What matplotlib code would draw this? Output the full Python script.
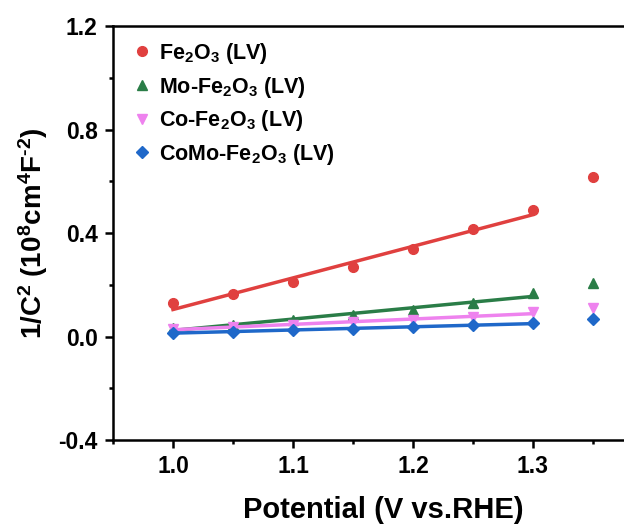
import matplotlib.pyplot as plt
import numpy as np
from matplotlib.ticker import MultipleLocator

plt.rcParams["font.family"] = ["Liberation Sans", "DejaVu Sans"]
plt.rcParams["font.weight"] = "bold"
plt.rcParams["axes.unicode_minus"] = False
plt.rcParams["mathtext.fontset"] = "custom"
plt.rcParams["mathtext.rm"] = "Liberation Sans:bold"
plt.rcParams["mathtext.bf"] = "Liberation Sans:bold"
plt.rcParams["mathtext.default"] = "bf"

potential = [1.00, 1.05, 1.10, 1.15, 1.20, 1.25, 1.30, 1.35]

fe2o3 = [0.128, 0.165, 0.210, 0.268, 0.338, 0.415, 0.489, 0.616]
mo_fe2o3 = [0.032, 0.046, 0.064, 0.083, 0.102, 0.130, 0.168, 0.206]
co_fe2o3 = [0.030, 0.037, 0.045, 0.055, 0.064, 0.075, 0.095, 0.110]
como_fe2o3 = [0.015, 0.019, 0.025, 0.030, 0.035, 0.043, 0.053, 0.067]

# points used for the linear fit (last point is left out)
n_fit = 7

series = [
    (fe2o3, r"Fe$_2$O$_3$ (LV)", "#e0403f", "o", 7),
    (mo_fe2o3, r"Mo-Fe$_2$O$_3$ (LV)", "#2a7d47", "^", 7.5),
    (co_fe2o3, r"Co-Fe$_2$O$_3$ (LV)", "#ee82ee", "v", 7.5),
    (como_fe2o3, r"CoMo-Fe$_2$O$_3$ (LV)", "#1f68c9", "D", 6),
]

fig = plt.figure(figsize=(6.24, 5.26), dpi=100)
ax = fig.add_axes([0.181, 0.1635, 0.8655, 0.787])

x = np.array(potential)
for values, label, color, marker, ms in series:
    y = np.array(values)
    ax.plot(x, y, linestyle="none", marker=marker, color=color,
            markersize=ms, label=label)
    k, b = np.polyfit(x[:n_fit], y[:n_fit], 1)
    xf = x[:n_fit]
    ax.plot(xf, k * xf + b, color=color, linewidth=2.5)

ax.set_xlim(0.95, 1.40)
ax.set_ylim(-0.4, 1.2)
ax.xaxis.set_major_locator(MultipleLocator(0.1))
ax.xaxis.set_minor_locator(MultipleLocator(0.05))
ax.yaxis.set_major_locator(MultipleLocator(0.4))
ax.yaxis.set_minor_locator(MultipleLocator(0.2))
ax.set_xticks([1.0, 1.1, 1.2, 1.3])
ax.set_xticklabels(["1.0", "1.1", "1.2", "1.3"])

for spine in ax.spines.values():
    spine.set_linewidth(1.8)
ax.tick_params(which="major", direction="out", length=6, width=1.8,
               labelsize=16.5, pad=5)
ax.tick_params(which="minor", direction="out", length=3, width=1.8)

ax.set_xlabel("Potential (V vs.RHE)", fontsize=21, fontweight="bold",
              labelpad=13)
ax.set_ylabel("1/C$^2$ (10$^8$cm$^4$F$^{\u2010 2}$)", fontsize=20,
              fontweight="bold", labelpad=6)

ax.legend(loc="upper left", frameon=False, fontsize=15.5, handletextpad=0.3,
          handlelength=1.0, labelspacing=0.4, borderaxespad=0.2,
          bbox_to_anchor=(0.01, 0.995))

fig.savefig("out.png", dpi=100)
